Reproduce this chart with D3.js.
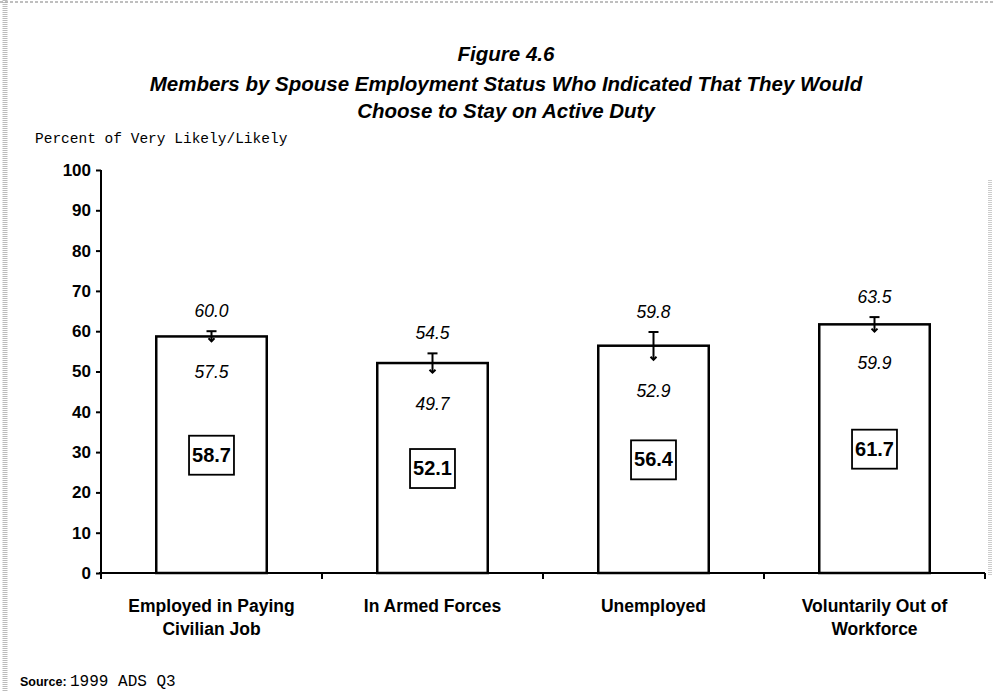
<!DOCTYPE html>
<html>
<head>
<meta charset="utf-8">
<script src="https://cdn.jsdelivr.net/npm/d3@7"></script>
<style>
  body { margin: 0; background: #fff; }
  svg { display: block; }
</style>
</head>
<body>
<div id="chart"></div>
<script>
const kWidth = 995;
const kHeight = 692;

const categories = [
  ["Employed in Paying", "Civilian Job"],
  ["In Armed Forces"],
  ["Unemployed"],
  ["Voluntarily Out of", "Workforce"]
];
const values = [58.7, 52.1, 56.4, 61.7];
const upperCI = [60.0, 54.5, 59.8, 63.5];
const lowerCI = [57.5, 49.7, 52.9, 59.9];
const yTicks = [0, 10, 20, 30, 40, 50, 60, 70, 80, 90, 100];

const kLeft = 101, kRight = 985, kTop = 170, kBottom = 573;
const kFont = "Arial, 'Liberation Sans', sans-serif";
const kMono = "'Liberation Mono', 'Courier New', monospace";

const svg = d3.select("#chart")
  .append("svg")
  .attr("width", kWidth)
  .attr("height", kHeight);

// faint scan edges
svg.append("line").attr("x1", 5).attr("x2", 5).attr("y1", 0).attr("y2", kHeight)
  .attr("stroke", "#bbb").attr("stroke-width", 5).attr("stroke-dasharray", "1,1");
svg.append("line").attr("x1", 0).attr("x2", kWidth).attr("y1", 2).attr("y2", 2)
  .attr("stroke", "#aaa").attr("stroke-width", 1.5).attr("stroke-dasharray", "3,2");
svg.append("line").attr("x1", 990).attr("x2", 990).attr("y1", 180).attr("y2", 575)
  .attr("stroke", "#ccc").attr("stroke-width", 4).attr("stroke-dasharray", "1,1");

// titles
const title = svg.append("g")
  .attr("font-family", kFont)
  .attr("font-weight", "bold")
  .attr("font-style", "italic")
  .attr("font-size", 20.5)
  .attr("text-anchor", "middle");
title.append("text").attr("x", 506).attr("y", 61).text("Figure 4.6");
title.append("text").attr("x", 506).attr("y", 91).text("Members by Spouse Employment Status Who Indicated That They Would");
title.append("text").attr("x", 506).attr("y", 118).text("Choose to Stay on Active Duty");

svg.append("text")
  .attr("x", 35).attr("y", 143)
  .attr("font-family", kMono)
  .attr("font-size", 14.5)
  .text("Percent of Very Likely/Likely");

const x = d3.scaleBand()
  .domain(d3.range(categories.length))
  .range([kLeft, kRight])
  .paddingInner(0.5)
  .paddingOuter(0.25);

const y = d3.scaleLinear().domain([0, 100]).range([kBottom, kTop]);

// y axis
const yAxis = d3.axisLeft(y).tickValues(yTicks).tickSize(5).tickSizeOuter(0).tickPadding(5);
const yg = svg.append("g").attr("transform", `translate(${kLeft},0)`).call(yAxis);
yg.select(".domain").remove();
yg.selectAll(".tick line").attr("stroke", "#000").attr("stroke-width", 2);
yg.selectAll(".tick text")
  .attr("font-family", kFont)
  .attr("font-weight", "bold")
  .attr("font-size", 17)
  .attr("fill", "#000");
svg.append("line")
  .attr("x1", kLeft).attr("x2", kLeft)
  .attr("y1", y(100)).attr("y2", kBottom + 6)
  .attr("stroke", "#000").attr("stroke-width", 2);

// x axis
svg.append("line")
  .attr("x1", kLeft - 2).attr("x2", kRight)
  .attr("y1", kBottom).attr("y2", kBottom)
  .attr("stroke", "#000").attr("stroke-width", 2);
const step = x.step();
svg.selectAll(".xtick")
  .data(d3.range(categories.length))
  .enter().append("line")
  .attr("class", "xtick")
  .attr("x1", i => x(i) + x.bandwidth() / 2 + step / 2)
  .attr("x2", i => x(i) + x.bandwidth() / 2 + step / 2)
  .attr("y1", kBottom).attr("y2", kBottom + 6)
  .attr("stroke", "#000").attr("stroke-width", 2);

// bars
svg.selectAll(".bar")
  .data(values)
  .enter().append("rect")
  .attr("class", "bar")
  .attr("x", (d, i) => x(i))
  .attr("y", d => y(d))
  .attr("width", x.bandwidth())
  .attr("height", d => y(0) - y(d))
  .attr("fill", "#fff")
  .attr("stroke", "#000")
  .attr("stroke-width", 2.5);

// error bars
const err = svg.append("g").attr("stroke", "#000").attr("stroke-width", 2);
values.forEach((v, i) => {
  const cx = x(i) + x.bandwidth() / 2;
  err.append("line").attr("x1", cx).attr("x2", cx).attr("y1", y(upperCI[i])).attr("y2", y(lowerCI[i]));
  err.append("line").attr("x1", cx - 5).attr("x2", cx + 5).attr("y1", y(upperCI[i])).attr("y2", y(upperCI[i]));
  err.append("path")
    .attr("d", `M${cx - 3},${y(lowerCI[i]) - 3}L${cx},${y(lowerCI[i])}L${cx + 3},${y(lowerCI[i]) - 3}`)
    .attr("fill", "none");
});

// CI labels
const lab = svg.append("g")
  .attr("font-family", kFont)
  .attr("font-style", "italic")
  .attr("font-size", 17.5)
  .attr("text-anchor", "middle");
values.forEach((v, i) => {
  const cx = x(i) + x.bandwidth() / 2;
  lab.append("text").attr("x", cx).attr("y", y(upperCI[i]) - 14).text(upperCI[i].toFixed(1));
  lab.append("text").attr("x", cx).attr("y", y(lowerCI[i]) + 37).text(lowerCI[i].toFixed(1));
});

// boxed value labels
values.forEach((v, i) => {
  const cx = x(i) + x.bandwidth() / 2;
  const cy = y(v / 2);
  const g = svg.append("g");
  const t = g.append("text")
    .attr("x", cx).attr("y", cy + 7)
    .attr("text-anchor", "middle")
    .attr("font-family", kFont)
    .attr("font-weight", "bold")
    .attr("font-size", 20)
    .text(v.toFixed(1));
  const w = t.node().getComputedTextLength();
  g.insert("rect", "text")
    .attr("x", cx - w / 2 - 3).attr("y", cy - 19)
    .attr("width", w + 6).attr("height", 39)
    .attr("fill", "#fff").attr("stroke", "#000").attr("stroke-width", 1.8);
});

// category labels
const cat = svg.append("g")
  .attr("font-family", kFont)
  .attr("font-weight", "bold")
  .attr("font-size", 17.5)
  .attr("text-anchor", "middle");
categories.forEach((lines, i) => {
  const cx = x(i) + x.bandwidth() / 2;
  lines.forEach((ln, j) => {
    cat.append("text").attr("x", cx).attr("y", 612 + j * 23).text(ln);
  });
});

// source
const src = svg.append("text").attr("x", 20).attr("y", 686);
src.append("tspan").attr("font-family", kFont).attr("font-weight", "bold").attr("font-size", 12.5).text("Source: ");
src.append("tspan").attr("font-family", kMono).attr("font-size", 16).text("1999 ADS Q3");
</script>
</body>
</html>
